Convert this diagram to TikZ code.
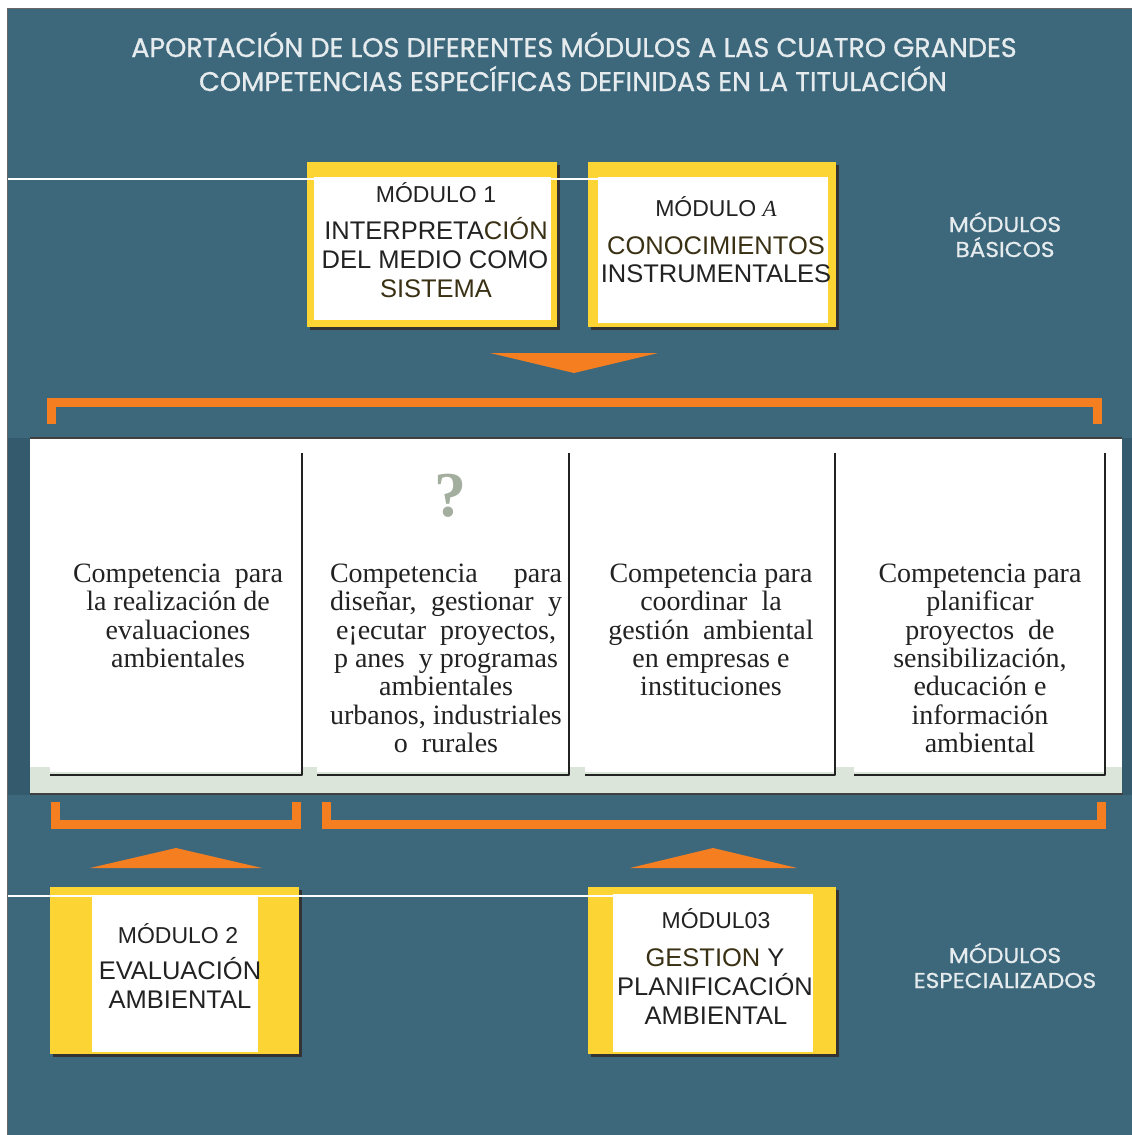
\documentclass[tikz,border=0pt]{standalone}
\usepackage{fontspec}
\setmainfont{Liberation Serif}
\newfontfamily\modfont{Liberation Sans}
\newfontfamily\titlefont{Poppins}[FakeBold=0.8]
\newfontfamily\sidefont{Poppins}[FakeBold=0.8,FakeStretch=1.08]
\definecolor{teal}{HTML}{3D687C}
\definecolor{tealdark}{HTML}{345A6D}
\definecolor{ylw}{HTML}{FCD535}
\definecolor{org}{HTML}{F47E20}
\definecolor{pgray}{HTML}{DCE5DA}
\definecolor{txtdark}{HTML}{222222}
\definecolor{brn}{HTML}{3A3114}
\definecolor{qgray}{HTML}{A3AE9E}
\definecolor{ttl}{HTML}{E6ECEE}
\begin{document}
\begin{tikzpicture}[x=1pt,y=-1pt,
  ttlstyle/.style={text=ttl,font=\titlefont\fontsize{27}{34}\selectfont,align=center,inner sep=0},
  sidelbl/.style={text=ttl,font=\sidefont\fontsize{21.5}{25}\selectfont,align=center,inner sep=0},
  modtxt/.style={text=txtdark,font=\modfont\fontsize{25.5}{29}\selectfont,align=center,inner sep=0},
  modhead/.style={text=txtdark,font=\modfont\fontsize{23}{27}\selectfont,inner sep=0},
  comptxt/.style={text=txtdark,font=\fontsize{28}{28.4}\selectfont,align=center,inner sep=0,anchor=north},
  colline/.style={draw=txtdark,line width=2.6pt,line join=round},
  obrk/.style={draw=org,line width=9pt},
  otri/.style={fill=org,draw=none},
  wline/.style={draw=white,line width=2pt},
  shadow/.style={fill=black!80,draw=none}
]
\useasboundingbox (0,0) rectangle (1132,1135);
\fill[white] (0,0) rectangle (1132,1135);
% background
\fill[teal] (7,8) rectangle (1132,1135);
\draw[black!60,line width=1pt] (7,1135) -- (7,8) -- (1132,8);

% title
\node[ttlstyle,anchor=base] (t1) at (574,57) {APORTACIÓN DE LOS DIFERENTES MÓDULOS A LAS CUATRO GRANDES};
\node[ttlstyle,anchor=base] (t2) at (573,91) {COMPETENCIAS ESPECÍFICAS DEFINIDAS EN LA TITULACIÓN};

% side labels
\node[sidelbl,anchor=base] (sb1) at (1005,232) {MÓDULOS};
\node[sidelbl,anchor=base] (sb2) at (1005,257) {BÁSICOS};
\node[sidelbl,anchor=base] (se1) at (1005,963) {MÓDULOS};
\node[sidelbl,anchor=base] (se2) at (1005,988) {ESPECIALIZADOS};

% module 1
\fill[shadow] (310,165) rectangle (560,330);
\fill[ylw] (307,162) rectangle (557,327);
\fill[white] (314,177) rectangle (551,320);
% module A
\fill[shadow] (591,165) rectangle (839,330);
\fill[ylw] (588,162) rectangle (836,327);
\fill[white] (598,177) rectangle (828,323);
% white line top
\coordinate (wl1a) at (8,179);
\coordinate (wl1b) at (598,179);
\draw[wline] (wl1a) -- (wl1b);

\node[modhead,anchor=base] (m1h) at (436,202) {MÓDULO 1};
\node[modtxt,anchor=base] (m1t1) at (436,239) {INTERPRETA\textcolor{brn}{CIÓN}};
\node[modtxt,anchor=base] (m1t2) at (435,268) {DEL MEDIO COMO};
\node[modtxt,anchor=base,text=brn] (m1t3) at (436,297) {SISTEMA};

\node[modhead,anchor=base] (mah) at (716,216) {MÓDULO {\fontspec{Liberation Serif}\itshape A}};
\node[modtxt,anchor=base,text=brn] (mat1) at (716,254) {CONOCIMIENTOS};
\node[modtxt,anchor=base] (mat2) at (716,282) {INSTRUMENTALES};

% top arrow triangle
\fill[otri] (490,353) -- (658,353) -- (574,373) -- cycle;
% top bracket
\draw[obrk] (51,424) -- (51,402) -- (1097,402) -- (1097,424);

% panel
\fill[tealdark] (8,438) rectangle (30,795);
\fill[tealdark] (1122,438) rectangle (1132,795);
\fill[white] (30,439) rectangle (1122,767);
\fill[pgray] (30,767) rectangle (1122,793);
\draw[black!75,line width=2pt] (30,438) -- (1122,438);
\draw[black!75,line width=2pt] (30,794) -- (1123,794);

% highlight under columns
\foreach \a/\b in {50/302,317/569,585/835,854/1105}{
  \fill[white] (\a,767) rectangle (\b,772);
}
% column frames
\coordinate (c1a) at (50,775); \coordinate (c1b) at (302,775); \coordinate (c1c) at (302,453);
\coordinate (c2a) at (317,775); \coordinate (c2b) at (569,775); \coordinate (c2c) at (569,453);
\coordinate (c3a) at (585,775); \coordinate (c3b) at (835,775); \coordinate (c3c) at (835,453);
\coordinate (c4a) at (854,775); \coordinate (c4b) at (1105,775); \coordinate (c4c) at (1105,453);
\draw[colline] (c1a) -- (c1b) -- (c1c);
\draw[colline] (c2a) -- (c2b) -- (c2c);
\draw[colline] (c3a) -- (c3b) -- (c3c);
\draw[colline] (c4a) -- (c4b) -- (c4c);

% question mark
\node[text=qgray,font=\bfseries\fontsize{64}{64}\selectfont,inner sep=0,anchor=base] (q) at (450,516) {?};

% column texts
\node[comptxt] (k1) at (178,563.5) {Competencia\ \ para\\la realización de\\evaluaciones\\ambientales};
\node[comptxt] (k2) at (446,563.5) {\makebox[232pt]{Competencia\hfill para}\\\makebox[232pt]{diseñar,\hfill gestionar\hfill y}\\e¡ecutar\ \ proyectos,\\p anes\ \ y programas\\ambientales\\urbanos, industriales\\o\ \ rurales};
\node[comptxt] (k3) at (711,563.5) {Competencia para\\coordinar\ \ la\\gestión\ \ ambiental\\en empresas e\\instituciones};
\node[comptxt] (k4) at (980,563.5) {Competencia para\\planificar\\proyectos\ \ de\\sensibilización,\\educación e\\información\\ambiental};

% bottom brackets
\draw[obrk] (55.5,802) -- (55.5,824.5) -- (296,824.5) -- (296,802);
\draw[obrk] (326,802) -- (326,824.5) -- (1101.5,824.5) -- (1101.5,802);

% bottom triangles
\fill[otri] (90,868) -- (262,868) -- (176,848) -- cycle;
\fill[otri] (630,868) -- (797,868) -- (713,848) -- cycle;

% module 2
\fill[shadow] (53,890) rectangle (302,1057);
\fill[ylw] (50,887) rectangle (299,1054);
\fill[white] (92,897) rectangle (258,1052);
% module 3
\fill[shadow] (591,890) rectangle (839,1057);
\fill[ylw] (588,887) rectangle (836,1054);
\fill[white] (613,894) rectangle (813,1052);
% white line bottom
\coordinate (wl2a) at (8,896);
\coordinate (wl2b) at (613,896);
\draw[wline] (wl2a) -- (wl2b);

\node[modhead,anchor=base] (m2h) at (178,943) {MÓDULO 2};
\node[modtxt,anchor=base] (m2t1) at (180,979) {EVALUACIÓN};
\node[modtxt,anchor=base] (m2t2) at (180,1008) {AMBIENTAL};

\node[modhead,anchor=base] (m3h) at (716,928) {MÓDUL03};
\node[modtxt,anchor=base] (m3t1) at (715,966) {\textcolor{brn}{GESTION} Y};
\node[modtxt,anchor=base] (m3t2) at (715,995) {PLANIFICACIÓN};
\node[modtxt,anchor=base] (m3t3) at (716,1024) {AMBIENTAL};
\end{tikzpicture}
\end{document}
